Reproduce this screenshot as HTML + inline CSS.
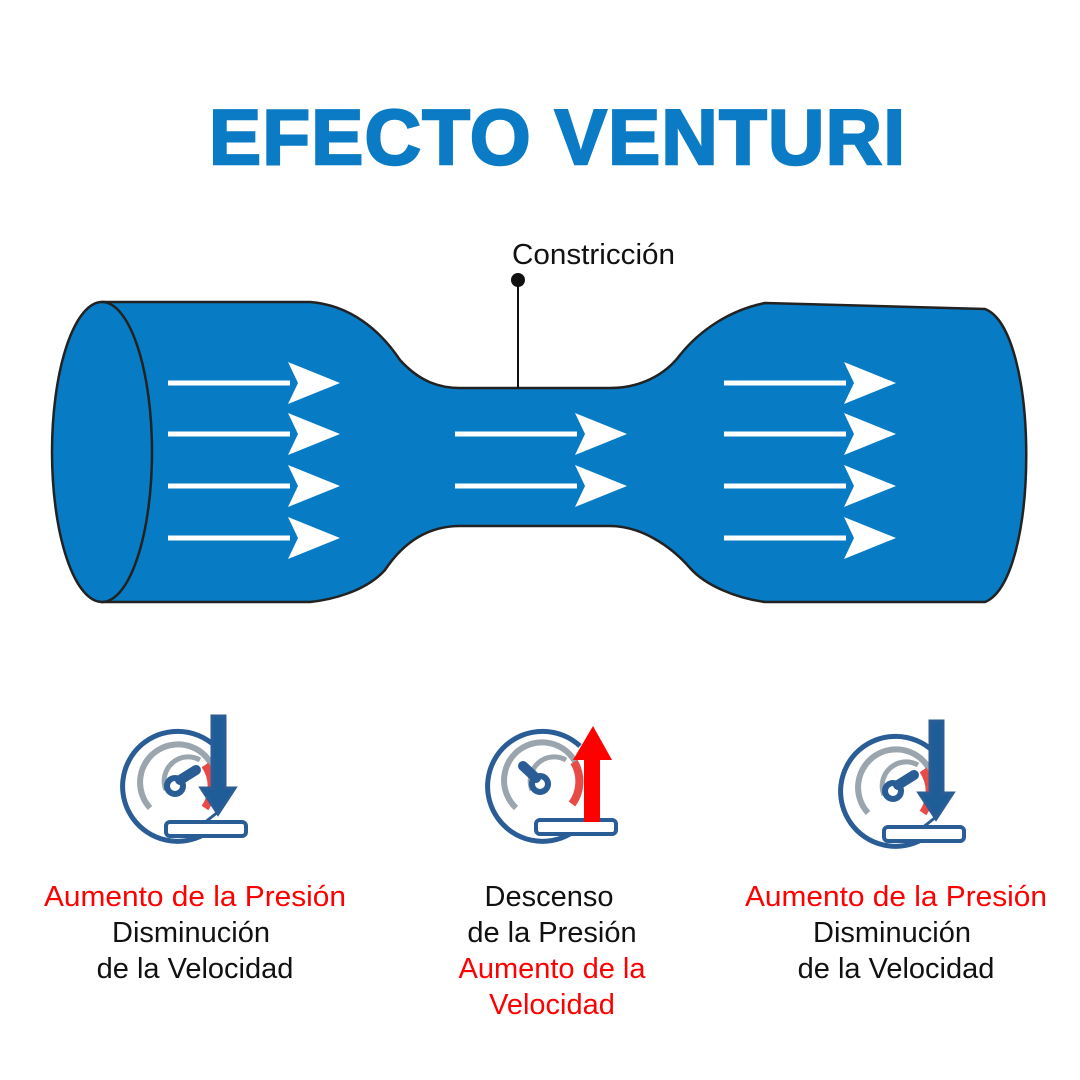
<!DOCTYPE html>
<html><head><meta charset="utf-8"><style>
body{margin:0;background:#fff}
svg{display:block}
text{font-family:"Liberation Sans",sans-serif}
</style></head><body>
<svg width="1080" height="1080" viewBox="0 0 1080 1080">
<defs>
<g id="wa"><path d="M0,0h122" stroke="#fff" stroke-width="5"/><polygon points="120,-21 172,0 120,21 130,0" fill="#fff"/></g>
</defs>
<text x="557" y="164" font-size="78" font-weight="bold" fill="#0a7bc4" stroke="#0a7bc4" stroke-width="2.5" text-anchor="middle" textLength="696" lengthAdjust="spacing">EFECTO VENTURI</text>
<text x="512" y="264" font-size="29" fill="#111" textLength="163" lengthAdjust="spacingAndGlyphs">Constricción</text>
<path d="M102,302 H310 C350,305 380,330 400,360 C420,382 440,388 460,388 H610 C640,388 665,375 680,355 C700,330 730,310 765,303 L985,309 C1040,330 1040,580 985,602 H765 C735,598 705,585 690,568 C670,545 640,526 610,526 H460 C430,526 405,540 385,570 C365,592 330,600 310,602 H102 Z" fill="#077bc3" stroke="#222" stroke-width="2.5"/>
<ellipse cx="102" cy="452" rx="50" ry="150" fill="#077bc3" stroke="#222" stroke-width="2.5"/>
<line x1="518" y1="280" x2="518" y2="388" stroke="#111" stroke-width="2"/>
<circle cx="518" cy="280" r="7" fill="#111"/>
<use href="#wa" x="168" y="383"/><use href="#wa" x="168" y="434"/><use href="#wa" x="168" y="486"/><use href="#wa" x="168" y="538"/>
<use href="#wa" x="455" y="434"/><use href="#wa" x="455" y="486"/>
<use href="#wa" x="724" y="383"/><use href="#wa" x="724" y="434"/><use href="#wa" x="724" y="486"/><use href="#wa" x="724" y="538"/>

<g id="g1" fill="none">
<path d="M205,834 A55,55 0 1 1 215,746" stroke="#2a5d96" stroke-width="5"/>
<path d="M150,808 A38,38 0 1 1 214,770" stroke="#9aa5ad" stroke-width="6"/>
<path d="M166,790 A24,24 0 0 1 200,760" stroke="#9aa5ad" stroke-width="5"/>
<path d="M205,765 A38,38 0 0 1 205,808" stroke="#e84a46" stroke-width="8"/>
<circle cx="175" cy="786" r="8" stroke="#2a5d96" stroke-width="6"/>
<path d="M180,780 L196,770" stroke="#2a5d96" stroke-width="10" stroke-linecap="round"/>
<rect x="166" y="822" width="80" height="14" rx="4" stroke="#2a5d96" stroke-width="4" fill="#fff"/>
<line x1="218" y1="812" x2="204" y2="823" stroke="#2a5d96" stroke-width="3"/>
<path d="M212,716 h13 v72 h10 l-17,26 l-17,-26 h11 z" fill="#1f5d99" stroke="#2a5d96" stroke-width="3"/>
</g>
<use href="#g1" x="718" y="5"/>

<g fill="none">
<path d="M570,834 A55,55 0 1 1 580,746" stroke="#2a5d96" stroke-width="5"/>
<path d="M516,808 A38,38 0 1 1 578,768" stroke="#9aa5ad" stroke-width="6"/>
<path d="M532,790 A24,24 0 0 1 566,760" stroke="#9aa5ad" stroke-width="5"/>
<path d="M574,762 A38,38 0 0 1 572,804" stroke="#e84a46" stroke-width="8"/>
<circle cx="540" cy="784" r="8" stroke="#2a5d96" stroke-width="6"/>
<path d="M536,778 L523,766" stroke="#2a5d96" stroke-width="10" stroke-linecap="round"/>
<rect x="536" y="820" width="80" height="14" rx="4" stroke="#2a5d96" stroke-width="4" fill="#fff"/>
<path d="M584,822 V760 H573 L593,726 L612,760 H600 V822 Z" fill="#ff0000"/>
</g>

<g font-size="29" text-anchor="middle">
<text x="195" y="906" fill="#ff0000" textLength="302" lengthAdjust="spacingAndGlyphs">Aumento de la Presión</text>
<text x="191" y="942" fill="#111">Disminución</text>
<text x="195" y="978" fill="#111">de la Velocidad</text>
<text x="549" y="906" fill="#111">Descenso</text>
<text x="552" y="942" fill="#111">de la Presión</text>
<text x="552" y="978" fill="#ff0000">Aumento de la</text>
<text x="552" y="1014" fill="#ff0000">Velocidad</text>
<text x="896" y="906" fill="#ff0000" textLength="302" lengthAdjust="spacingAndGlyphs">Aumento de la Presión</text>
<text x="892" y="942" fill="#111">Disminución</text>
<text x="896" y="978" fill="#111">de la Velocidad</text>
</g>
</svg>
</body></html>
